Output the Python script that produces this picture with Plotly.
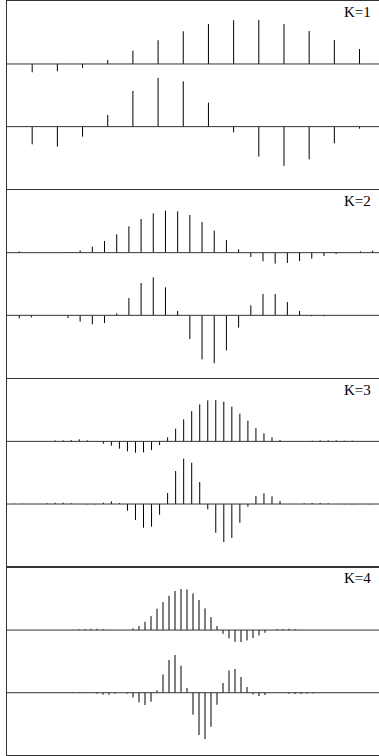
import plotly.graph_objects as go

# ---- data (amplitudes, arbitrary units) ----
panel_labels = ["K=1", "K=2", "K=3", "K=4"]

k1_upper = [0, -8.3, -7.3, -4, 4, 13.3, 23.7, 32.7, 40, 43.7, 44, 40, 33, 24, 15]
k1_lower = [0, -17.7, -20, -10, 11.7, 35.7, 48.7, 45.3, 24, -5.7, -30, -39.3, -32.7, -16.7, -2]

k2_upper = [0, 1.3, 0, 0, 0, 0.7, 2.3, 6, 11.7, 18.3, 26.3, 33.7, 39.3, 42, 41.3, 37.7,
            30.7, 22, 12.7, 3.3, -4.3, -8.7, -11, -10.3, -8.3, -6, -3.3, -1.3, 0, 1.3, 2]
k2_lower = [0, -3, -2, 0, 0, -2.7, -6.3, -9, -7.7, 2, 17.3, 32.3, 38, 28, 4.3, -23.7,
            -44, -48, -35, -12.3, 10, 21.3, 21.3, 13.3, 4.3, -1, -1, -0.7, 0, -0.3, 0]

k3_upper = [0, 0, 0, 0, 0, 0, 1, 1, 1.3, 2, 1, 0, -2.3, -4.3, -7.3, -10,
            -11.3, -11, -8.7, -3.7, 4, 12.7, 22, 30.3, 37, 41, 41.3, 39.7, 34.7, 27.7, 20.7, 13.3,
            8, 4, 1.3, 0, 0, 0, 0.7, 1, 1, 1, 0.7, 0.7, 0, 0, 0, 0]
k3_lower = [0, 0.3, 0.3, 0, 0, 0.7, 1.3, 1.3, 0.7, 0, -0.3, -0.3, 1.3, 2.7, 1, -6.7,
            -16, -23.7, -22.7, -10.7, 11, 33, 45.3, 41.3, 22, -5.3, -28.7, -38, -34, -18.7, -2.7, 8,
            10.7, 7.7, 3, 0, 0, 0.7, 1, 1, 0.7, 0, -0.3, -0.3, 0, -0.3, 0, 0]

k4_upper = [0, 0, 0, 0, 0, 0, 0, 0, 0, 0, 0, 0.3, 0.7, 1, 1.3, 1.3,
            1, 0.3, 0, 0, 0, 1.7, 4, 8.3, 14, 21.3, 28, 34.3, 39, 41, 40.7, 36.7,
            30, 21.7, 13, 4, -3.7, -8.3, -11.7, -12, -10.3, -8, -5.3, -2.7, 0, 1, 1, 1.3,
            1, 0.3, 0, 0, 0, 0, 0, 0, 0, 0, 0, 0, 0, 0, 0]
k4_lower = [0, 0, 0, 0, 0, 0, 0, 0, 0, 0, 0, 0.3, 0.7, 0.7, 0, -1,
            -2, -2, -1, 0, -1, -4.7, -9.7, -12.3, -9, 2.3, 18.3, 32.7, 37.7, 27, 4.7, -22,
            -42.3, -46.3, -34, -12, 9.7, 22.3, 23.7, 15.7, 5.7, -1.7, -3.3, -2.3, 0, -0.3, 0, -1,
            -1.3, -1.3, -1, -0.7, 0, 0, 0, 0, 0, 0, 0, 0, 0, 0, 0]

panels = [(k1_upper, k1_lower), (k2_upper, k2_lower), (k3_upper, k3_lower), (k4_upper, k4_lower)]
sample_spacing_px = [25.18, 12.19, 8.03, 6.0]

# ---- layout constants ----
W, H = 388, 756              # figure a bit wider than the window: right frame edge is cut off
VIEW_W = 379
left_px = 7
panel_h = 188.0
pitch = 188.7
top0 = 1.3
gap = panel_h / 3.0          # distance between baselines (amplitude units)
lower_offset = -gap          # lower signal is drawn one row below

fig = go.Figure()
layout = dict(width=W, height=H, margin=dict(l=0, r=0, t=0, b=0),
              paper_bgcolor="white", plot_bgcolor="white", showlegend=False)
shapes = []
annotations = []
line_col = "#333333"

for p, (up, lo) in enumerate(panels):
    n = p + 1
    xa = "x" if n == 1 else f"x{n}"
    ya = "y" if n == 1 else f"y{n}"
    top = top0 + pitch * p
    y1 = 1 - top / H
    y0 = 1 - (top + panel_h) / H
    xmax = (W - left_px) / sample_spacing_px[p]

    xs, ys = [], []
    for base, vals in ((0.0, up), (lower_offset, lo)):
        for i, v in enumerate(vals):
            if v == 0:
                continue
            xs += [i, i, None]
            ys += [base, base + v, None]
    fig.add_trace(go.Scatter(x=xs, y=ys, mode="lines", xaxis=xa, yaxis=ya,
                             line=dict(color="black", width=1), hoverinfo="skip"))

    layout["xaxis" if n == 1 else f"xaxis{n}"] = dict(
        domain=[left_px / W, 1], range=[0, xmax], anchor=ya,
        showgrid=False, zeroline=False, showticklabels=False, ticks="",
        showline=True, mirror=True, linecolor=line_col, linewidth=1)
    layout["yaxis" if n == 1 else f"yaxis{n}"] = dict(
        domain=[y0, y1], range=[2 * lower_offset, gap], anchor=xa,
        showgrid=False, zeroline=False, showticklabels=False, ticks="",
        showline=True, mirror=False, linecolor=line_col, linewidth=1)

    for base in (0.0, lower_offset):
        shapes.append(dict(type="line", xref=f"{xa} domain", yref=ya,
                           x0=0, x1=1, y0=base, y1=base,
                           line=dict(color=line_col, width=1)))
    annotations.append(dict(text=panel_labels[p], xref="paper", yref="paper",
                            x=372.5 / W, y=1 - (top + 11) / H,
                            xanchor="right", yanchor="middle", showarrow=False,
                            font=dict(family="Liberation Serif", size=15, color="black")))

layout["shapes"] = shapes
layout["annotations"] = annotations
fig.update_layout(**layout)
fig.write_html("out.html", config={"displayModeBar": False},
               post_script="document.body.style.margin='0';document.body.style.overflow='hidden';")
